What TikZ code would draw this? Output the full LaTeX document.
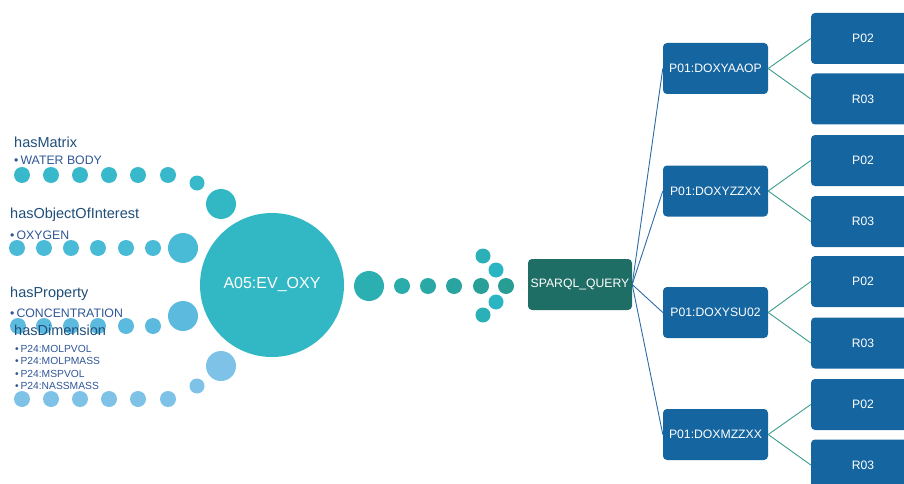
\documentclass[tikz,border=0pt]{standalone}
\usepackage{fontspec}
\setmainfont{Liberation Sans}
\definecolor{txt}{HTML}{1F4E79}
\definecolor{txtb}{HTML}{2F5597}
\definecolor{bigc}{HTML}{31B8C4}
\definecolor{rA}{HTML}{38B9CB}
\definecolor{rB}{HTML}{4ABBD6}
\definecolor{rC}{HTML}{5CBADF}
\definecolor{rD}{HTML}{7EC2E8}
\definecolor{sq}{HTML}{1F6E66}
\definecolor{pb}{HTML}{1565A1}
\definecolor{bl}{HTML}{2D6BA7}
\definecolor{tl}{HTML}{3A9C8C}
\begin{document}
\begin{tikzpicture}[x=1pt,y=-1pt,
  dot/.style={circle,inner sep=0pt,minimum size=#1},
  pbox/.style={rectangle,rounded corners=4pt,fill=pb,text=white,inner sep=0pt,minimum width=105pt,minimum height=51pt,font=\fontsize{12.2}{14}\selectfont},
  rbox/.style={pbox,minimum width=104pt},
  lab/.style={anchor=west,inner sep=0pt,text=txt,font=\fontsize{14.5}{16}\selectfont},
  sub/.style={anchor=west,inner sep=0pt,text=txtb,font=\fontsize{12.3}{13}\selectfont},
  tiny/.style={anchor=west,inner sep=0pt,text=txtb,font=\fontsize{10.3}{11}\selectfont},
  bline/.style={draw=bl,line width=0.9pt},
  tline/.style={draw=tl,line width=0.9pt}]
\useasboundingbox (0,0) rectangle (904,484);
\clip (0,0) rectangle (904,484);
% central circle
\node[dot=144pt,fill=bigc,text=white,font=\fontsize{16}{18}\selectfont] (ev) at (272,285) {A05:EV\_OXY};
% row 1
\foreach \x [count=\i] in {22,51,80,109,138,168}{\node[dot=16pt,fill=rA] (a\i) at (\x,175) {};}
\node[dot=15pt,fill=rA!80!bigc] (a7) at (197,183) {};
\node[dot=30pt,fill=bigc] (a8) at (221,204) {};
% row 2
\foreach \x [count=\i] in {17,44,71,98,126,153}{\node[dot=16pt,fill=rB] (b\i) at (\x,248) {};}
\node[dot=30pt,fill=rB] (b7) at (183,248) {};
% row 3
\foreach \x [count=\i] in {18,44,71,98,126,153}{\node[dot=16pt,fill=rC] (c\i) at (\x,326) {};}
\node[dot=30pt,fill=rC] (c7) at (183,316) {};
% row 4
\foreach \x [count=\i] in {22,51,80,109,138,168}{\node[dot=16pt,fill=rD] (d\i) at (\x,399) {};}
\node[dot=15pt,fill=rD] (d7) at (197,386) {};
\node[dot=30pt,fill=rD] (d8) at (221,366) {};
% labels
\node[lab] (l1) at (14,142) {hasMatrix};
\node[sub] (s1) at (14,160) {\textbullet\,WATER BODY};
\node[lab] (l2) at (10,215) {hasObjectOfInterest};
\node[sub] (s2) at (10,235) {\textbullet\,OXYGEN};
\node[lab] (l3) at (10,294) {hasProperty};
\node[sub] (s3) at (10,313) {\textbullet\,CONCENTRATION};
\node[lab] (l4) at (14,330) {hasDimension};
\node[tiny] (t1) at (15,349) {\textbullet\,P24:MOLPVOL};
\node[tiny] (t2) at (15,361) {\textbullet\,P24:MOLPMASS};
\node[tiny] (t3) at (15,374) {\textbullet\,P24:MSPVOL};
\node[tiny] (t4) at (15,386) {\textbullet\,P24:NASSMASS};
% right chain
\node[dot=30pt,fill={rgb,255:red,43;green,175;blue,176}] (e0) at (369,286) {};
\node[dot=16pt,fill={rgb,255:red,42;green,172;blue,170}] (e1) at (402,286) {};
\node[dot=16pt,fill={rgb,255:red,42;green,168;blue,165}] (e2) at (428,286) {};
\node[dot=16pt,fill={rgb,255:red,41;green,164;blue,160}] (e3) at (454,286) {};
\node[dot=16pt,fill={rgb,255:red,40;green,160;blue,152}] (e4) at (481,286) {};
\node[dot=16pt,fill={rgb,255:red,40;green,157;blue,148}] (e5) at (506,286) {};
\node[dot=15pt,fill={rgb,255:red,42;green,176;blue,182}] (f1) at (483,256) {};
\node[dot=15pt,fill={rgb,255:red,43;green,181;blue,194}] (f2) at (496,270) {};
\node[dot=15pt,fill={rgb,255:red,43;green,181;blue,194}] (f3) at (496,302) {};
\node[dot=15pt,fill={rgb,255:red,42;green,176;blue,182}] (f4) at (483,315) {};
% SPARQL box
\node[rectangle,rounded corners=4pt,fill=sq,text=white,inner sep=0pt,minimum width=104pt,minimum height=51pt,font=\fontsize{12.2}{14}\selectfont] (q) at (580,284.5) {SPARQL\_QUERY};
% P01 boxes
\node[pbox] (p1) at (715.5,68.5) {P01:DOXYAAOP};
\node[pbox] (p2) at (715.5,191) {P01:DOXYZZXX};
\node[pbox] (p3) at (715.5,312.5) {P01:DOXYSU02};
\node[pbox] (p4) at (715.5,434.5) {P01:DOXMZZXX};
% P02 / R03 boxes
\node[rbox] (r1a) at (863,38.5) {P02};
\node[rbox] (r1b) at (863,99) {R03};
\node[rbox] (r2a) at (863,160.5) {P02};
\node[rbox] (r2b) at (863,221.5) {R03};
\node[rbox] (r3a) at (863,281.5) {P02};
\node[rbox] (r3b) at (863,343) {R03};
\node[rbox] (r4a) at (863,404.5) {P02};
\node[rbox] (r4b) at (863,465) {R03};
% connectors
\foreach \p in {p1,p2,p3,p4}{\draw[bline] (q.east) -- (\p.west);}
\foreach \p/\a/\b in {p1/r1a/r1b,p2/r2a/r2b,p3/r3a/r3b,p4/r4a/r4b}{
  \draw[tline] (\p.east) -- (\a.west);
  \draw[tline] (\p.east) -- (\b.west);}
\end{tikzpicture}
\end{document}
